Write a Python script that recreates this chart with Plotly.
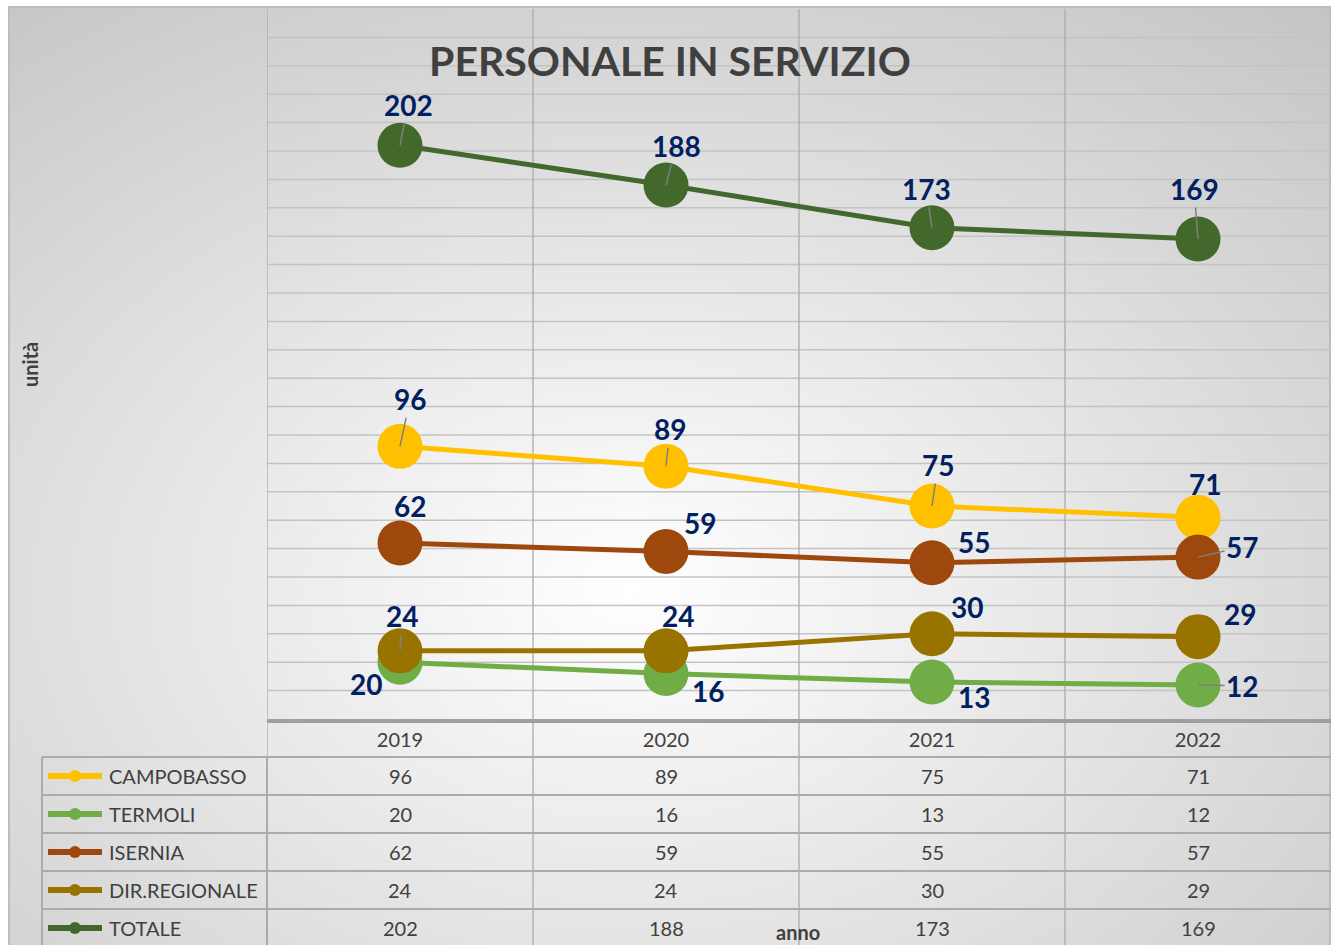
import base64
import plotly.graph_objects as go

# ---------------- data ----------------
YEARS = ["2019", "2020", "2021", "2022"]
SERIES = ["CAMPOBASSO", "TERMOLI", "ISERNIA", "DIR.REGIONALE", "TOTALE"]
CAMPOBASSO = [96, 89, 75, 71]
TERMOLI = [20, 16, 13, 12]
ISERNIA = [62, 59, 55, 57]
DIR_REGIONALE = [24, 24, 30, 29]
TOTALE = [202, 188, 173, 169]
VALUES = [CAMPOBASSO, TERMOLI, ISERNIA, DIR_REGIONALE, TOTALE]

TITLE = "PERSONALE IN SERVIZIO"
Y_TITLE = "unità"
X_TITLE = "anno"

# ---------------- style ----------------
COLORS = ["#FFC000", "#70AD47", "#9E480E", "#997300", "#43682B"]
# data label offsets (pixels, label centre relative to point) and leader flags
LABEL_OFFSETS = [
    [(10, -47), (4, -37), (6, -41), (7, -33)],
    [(-34, 22), (42, 17), (42, 15), (44, 1)],
    [(10, -37), (34, -28), (42, -21), (44, -10)],
    [(2, -35), (12, -35), (35, -27), (42, -23)],
    [(8, -40), (10, -39), (-6, -39), (-4, -50)],
]
LEADERS = [
    [True, True, True, False],
    [False, False, False, True],
    [False, False, False, True],
    [True, False, False, False],
    [True, True, True, True],
]

W, H = 1331, 945
PL, PT, PB = 267, 9, 719           # plot left / top / bottom in pixels
PW, PH = W - PL, PB - PT
FONT = "Lato"
TXT = "#404040"
LABEL_COL = "#002060"
GRID = "#C3C3C3"
TLINE = "#ABABAB"


def px_x(px):
    return (px - PL) / PW


def px_y(py):
    return (PB - py) / PH


fig = go.Figure()

XI = list(range(len(YEARS)))
for name, vals, col in zip(SERIES, VALUES, COLORS):
    fig.add_trace(go.Scatter(
        x=XI, y=vals, name=name, mode="lines+markers",
        line=dict(color=col, width=5),
        marker=dict(color=col, size=45, line=dict(width=0)),
        showlegend=False, cliponaxis=False, hoverinfo="skip",
    ))

annotations = []
# data labels
for s, vals in enumerate(VALUES):
    for i, v in enumerate(vals):
        ax, ay = LABEL_OFFSETS[s][i]
        annotations.append(dict(
            x=i, y=v, xref="x", yref="y", text=f"<b>{v}</b>",
            showarrow=True, ax=ax, ay=ay, arrowhead=0, arrowwidth=1.5,
            standoff=0, xanchor="center", yanchor="middle",
            arrowcolor="#7F7F7F" if LEADERS[s][i] else "rgba(0,0,0,0)",
            font=dict(family=FONT, size=28, color=LABEL_COL),
        ))

# title and axis titles
annotations.append(dict(x=px_x(670), y=px_y(60), xref="paper", yref="paper",
                        text=f"<b>{TITLE}</b>", showarrow=False,
                        xanchor="center", yanchor="middle",
                        font=dict(family=FONT, size=41, color=TXT)))
annotations.append(dict(x=px_x(30), y=px_y(365), xref="paper", yref="paper",
                        text=f"<b>{Y_TITLE}</b>", textangle=-90, showarrow=False,
                        xanchor="center", yanchor="middle",
                        font=dict(family=FONT, size=20, color=TXT)))
annotations.append(dict(x=px_x(798), y=px_y(932), xref="paper", yref="paper",
                        text=f"<b>{X_TITLE}</b>", showarrow=False,
                        xanchor="center", yanchor="middle",
                        font=dict(family=FONT, size=20, color=TXT)))

# data table
ROW0, ROWH = 776, 38
shapes = []
for s, (name, vals, col) in enumerate(zip(SERIES, VALUES, COLORS)):
    cy = ROW0 + ROWH * s
    annotations.append(dict(x=px_x(107), y=px_y(cy), xref="paper", yref="paper",
                            text=name, showarrow=False, xanchor="left",
                            yanchor="middle",
                            font=dict(family=FONT, size=20, color=TXT)))
    for i, v in enumerate(vals):
        annotations.append(dict(x=i, y=px_y(cy), xref="x", yref="paper",
                                text=str(v), showarrow=False,
                                xanchor="center", yanchor="middle",
                                font=dict(family=FONT, size=20, color=TXT)))
    # legend key
    shapes.append(dict(type="line", xref="paper", yref="paper",
                       x0=px_x(48), x1=px_x(102), y0=px_y(cy), y1=px_y(cy),
                       line=dict(color=col, width=6)))
    shapes.append(dict(type="circle", xref="paper", yref="paper",
                       x0=px_x(69), x1=px_x(81), y0=px_y(cy - 6), y1=px_y(cy + 6),
                       fillcolor=col, line=dict(width=0)))

# horizontal gridlines (plot)
for g in range(10, 250, 10):
    shapes.append(dict(type="line", xref="paper", yref="y", x0=0, x1=1,
                       y0=g, y1=g, layer="below", line=dict(color=GRID, width=1.5)))
# vertical category boundaries through plot and table
for k in range(len(YEARS) + 1):
    shapes.append(dict(type="line", xref="x", yref="paper",
                       x0=k - 0.5, x1=k - 0.5, y0=px_y(950), y1=px_y(PT),
                       line=dict(color=TLINE, width=1.3), layer="below"))
# table horizontal lines
shapes.append(dict(type="line", xref="paper", yref="paper", x0=0, x1=1,
                   y0=px_y(722), y1=px_y(722), line=dict(color="#9E9E9E", width=2)))
for r in range(5):
    yy = 757 + ROWH * r
    shapes.append(dict(type="line", xref="paper", yref="paper", x0=px_x(42), x1=1,
                       y0=px_y(yy), y1=px_y(yy), line=dict(color=TLINE, width=2)))
shapes.append(dict(type="line", xref="paper", yref="paper", x0=px_x(42), x1=px_x(42),
                   y0=px_y(757), y1=px_y(950), line=dict(color=TLINE, width=2)))
shapes.append(dict(type="line", xref="paper", yref="paper", x0=px_x(267), x1=px_x(267),
                   y0=px_y(757), y1=px_y(950), line=dict(color=TLINE, width=2)))
# outer chart border
shapes.append(dict(type="rect", xref="paper", yref="paper",
                   x0=px_x(9), x1=px_x(1330), y0=px_y(950), y1=px_y(7),
                   line=dict(color="#BDBDBD", width=2), layer="below"))

# gradient background
svg = ('<svg xmlns="http://www.w3.org/2000/svg" width="1322" height="940" '
       'viewBox="0 0 1322 940" preserveAspectRatio="none"><defs>'
       '<radialGradient id="g" cx="0.47" cy="0.62" r="0.85">'
       '<stop offset="0" stop-color="#FFFFFF"/><stop offset="1" stop-color="#C2C2C2"/>'
       '</radialGradient></defs><rect width="1322" height="940" fill="url(#g)"/></svg>')
src = "data:image/svg+xml;base64," + base64.b64encode(svg.encode()).decode()

fig.update_layout(
    width=W, height=H,
    margin=dict(l=PL, r=0, t=PT, b=H - PB, pad=0),
    paper_bgcolor="white",
    plot_bgcolor="rgba(255,255,255,0.45)",
    showlegend=False,
    hovermode=False,
    annotations=annotations,
    shapes=shapes,
    images=[dict(source=src, xref="paper", yref="paper",
                 x=px_x(9), y=px_y(7), sizex=1322 / PW, sizey=940 / PH,
                 xanchor="left", yanchor="top", sizing="stretch", layer="below")],
    xaxis=dict(range=[-0.5, len(YEARS) - 0.5], showgrid=False,
               tickmode="array", tickvals=XI, ticktext=YEARS,
               zeroline=False, showline=True, linecolor="#A0A0A0", linewidth=2,
               ticks="", ticklabelstandoff=2,
               tickfont=dict(family=FONT, size=20, color=TXT), fixedrange=True),
    yaxis=dict(range=[0, 250], showgrid=False, zeroline=False, showticklabels=False,
               ticks="", fixedrange=True),
)

fig.write_html("out.html",
               config={"displayModeBar": False},
               post_script="document.body.style.margin='0';"
                           "document.body.style.overflow='hidden';")
